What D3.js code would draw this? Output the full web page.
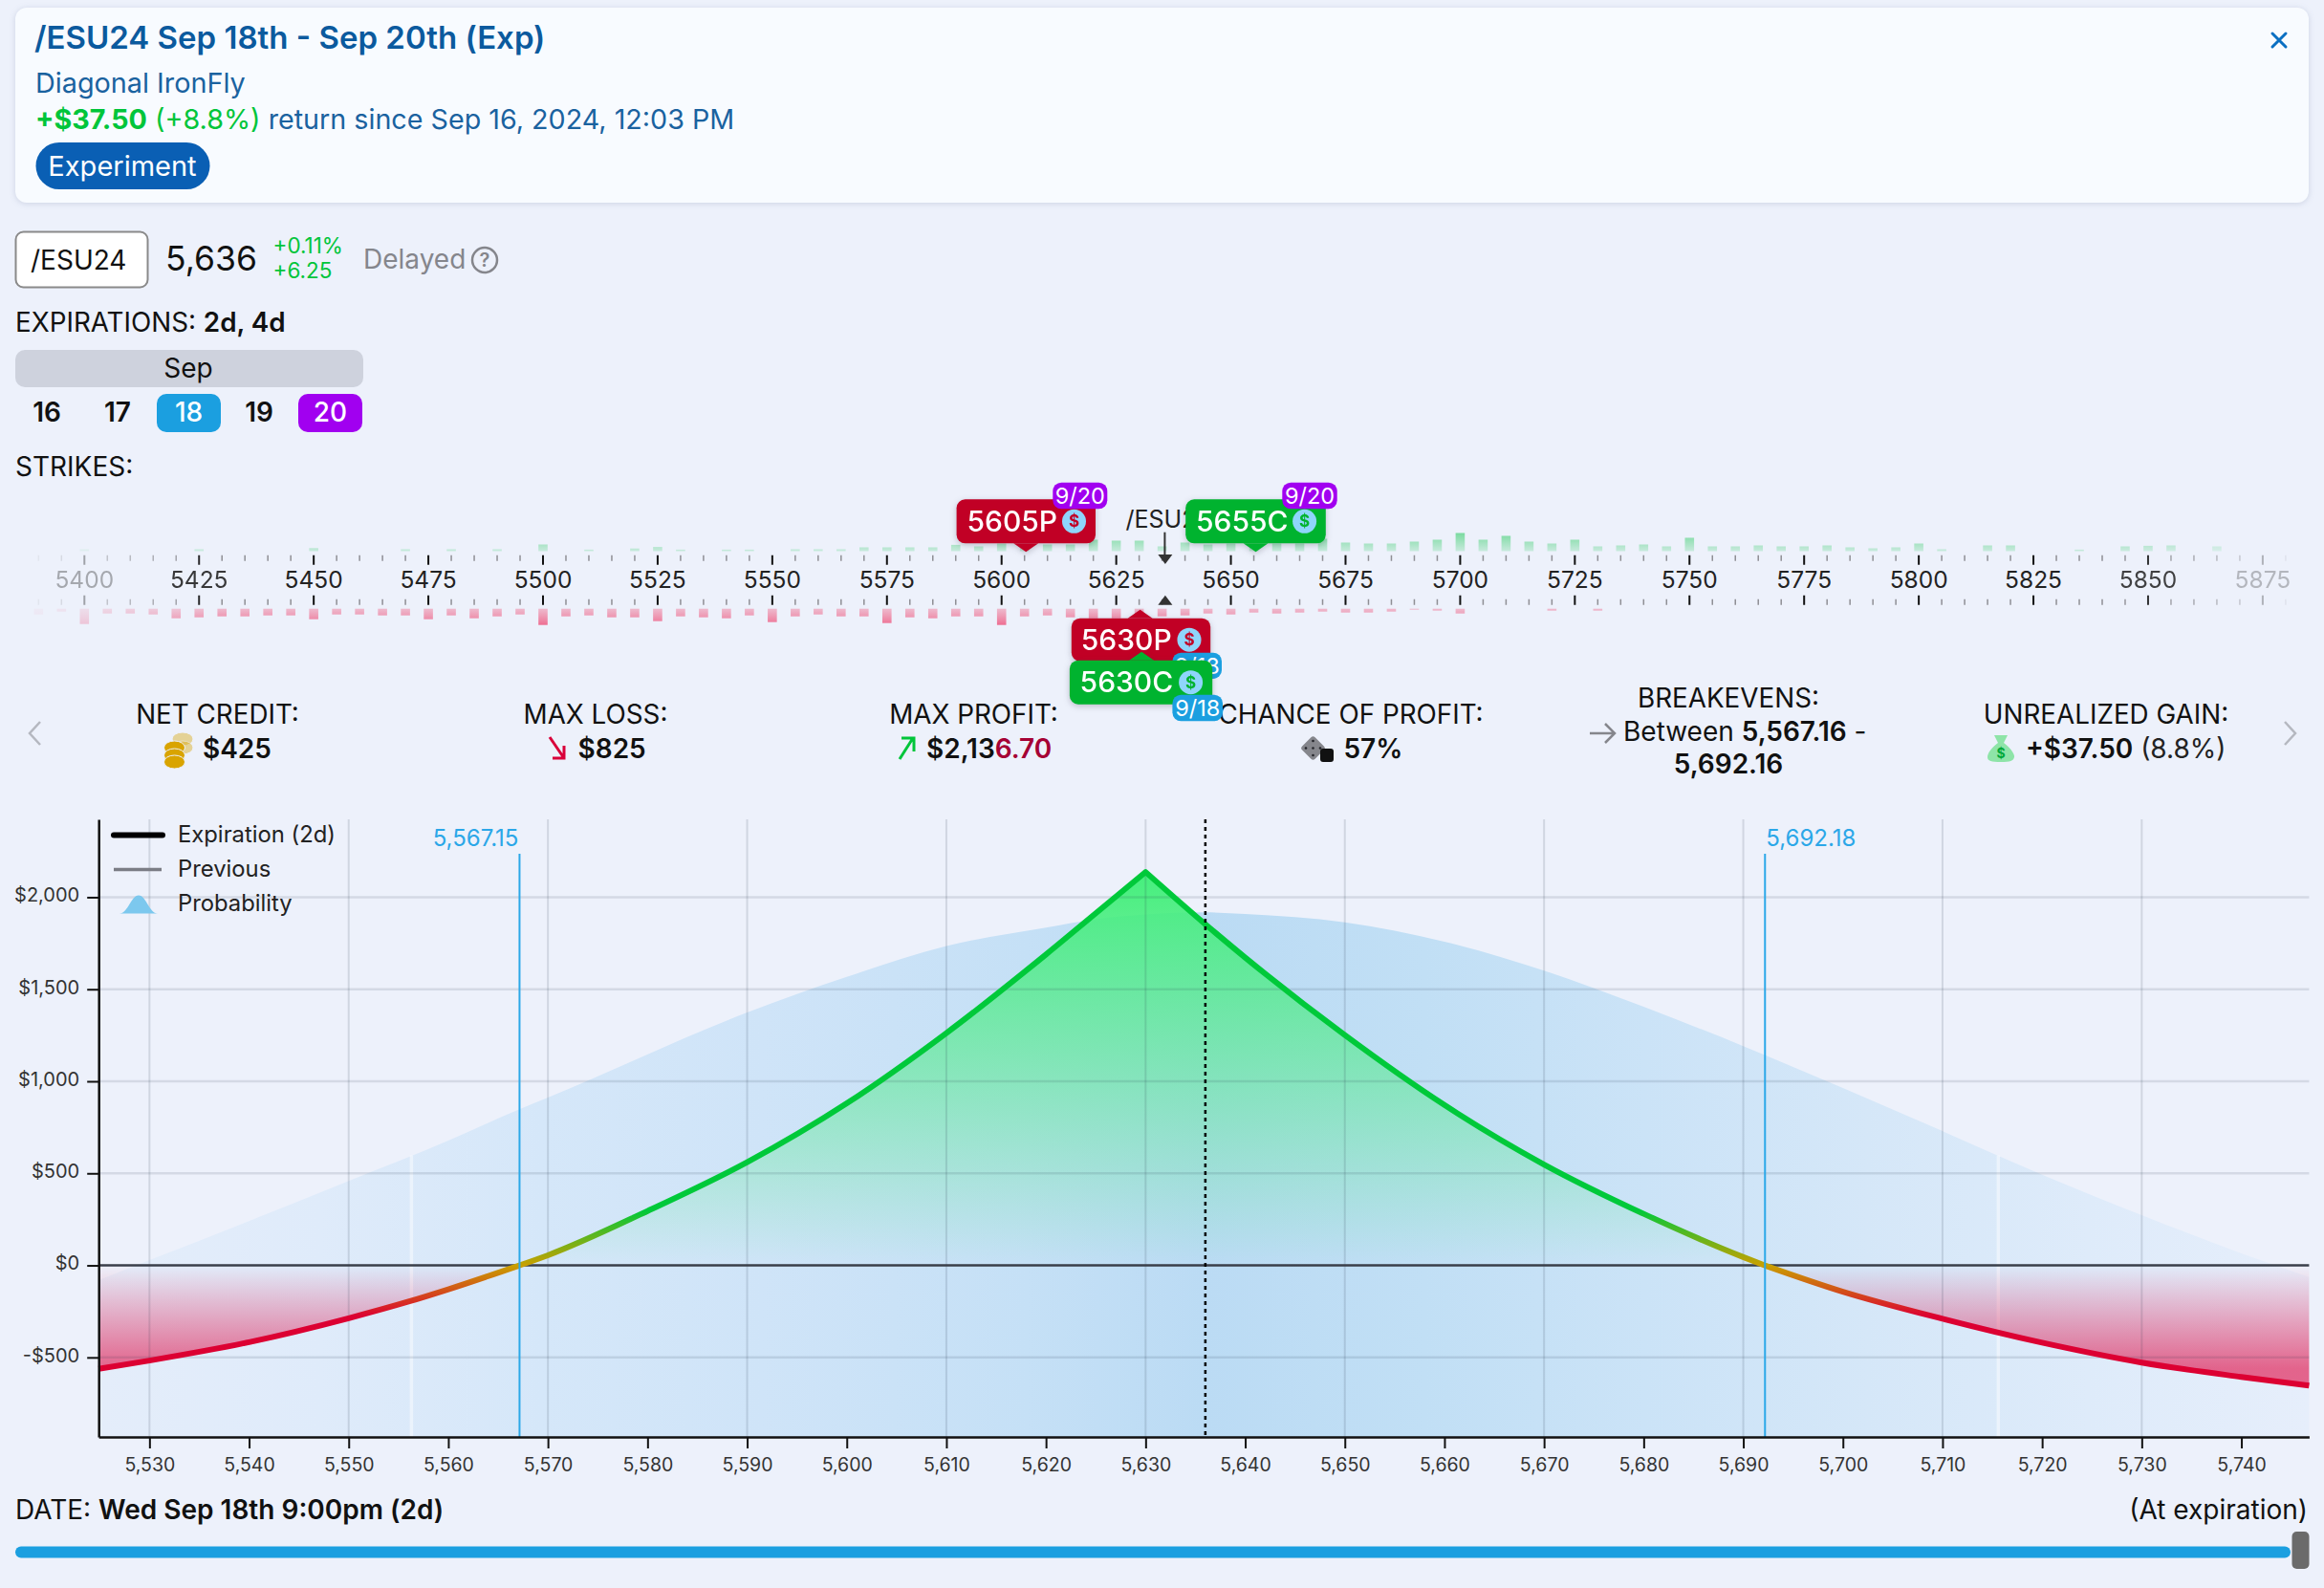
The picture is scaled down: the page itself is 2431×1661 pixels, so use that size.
<!DOCTYPE html>
<html>
<head>
<meta charset="utf-8">
<title>/ESU24 Diagonal IronFly</title>
<style>
  html, body { margin: 0; padding: 0; background: #edf1fb; }
  svg { display: block; }
  text { font-family: Inter, "Noto Sans", sans-serif; }
</style>
</head>
<body>
<script src="https://cdnjs.cloudflare.com/ajax/libs/d3/7.8.5/d3.min.js"></script>
<script>
// payoff at expiration, split at the 5630 peak so the kink stays sharp
var pnlLossLeftPrice = [5524.9, 5530, 5540, 5550, 5556, 5560, 5567.15];
var pnlLossLeftValue = [-562, -517, -417, -287, -197, -130, 0];
var pnlGainLeftPrice = [5567.15, 5570, 5580, 5590, 5600, 5610, 5620, 5625, 5630];
var pnlGainLeftValue = [0, 55, 295, 560, 880, 1262, 1689, 1913, 2136.7];
var pnlGainRightPrice = [5630, 5635.8, 5640, 5650, 5660, 5670, 5680, 5690, 5692.16];
var pnlGainRightValue = [2136.7, 1862, 1672, 1251, 871, 548, 280, 45, 0];
var pnlLossRightPrice = [5692.16, 5700, 5710, 5720, 5730, 5740, 5746.8];
var pnlLossRightValue = [0, -143, -290, -420, -528, -606, -653];

// probability curve, 1 = the top of the bell
var probPrice = [5524.9, 5530, 5540.7, 5550, 5560, 5566.8, 5570, 5590, 5600, 5610, 5620, 5625, 5630, 5636, 5640, 5650, 5660, 5670, 5680, 5690, 5700, 5710, 5720, 5730, 5740, 5746.8];
var probValue = [0.299, 0.337, 0.417, 0.488, 0.565, 0.622, 0.647, 0.809, 0.877, 0.936, 0.971, 0.987, 0.996, 1, 0.997, 0.981, 0.944, 0.889, 0.82, 0.745, 0.665, 0.583, 0.5, 0.423, 0.35, 0.305];
var sigmaBands = [5556.3, 5715.6];

var xTicks = [5530, 5540, 5550, 5560, 5570, 5580, 5590, 5600, 5610, 5620, 5630, 5640, 5650, 5660, 5670, 5680, 5690, 5700, 5710, 5720, 5730, 5740];
var xGrid = [5530, 5550, 5570, 5590, 5610, 5630, 5650, 5670, 5690, 5710, 5730];
var yTicks = [-500, 0, 500, 1000, 1500, 2000];
var breakevens = [5567.15, 5692.18];
var lastPrice = 5636;

// strike rail
var strikeLabels = [5400, 5425, 5450, 5475, 5500, 5525, 5550, 5575, 5600, 5625, 5650, 5675, 5700, 5725, 5750, 5775, 5800, 5825, 5850, 5875];
var callStrikes = [5400, 5425, 5450, 5470, 5480, 5490, 5500, 5510, 5520, 5525, 5530, 5540, 5545, 5555, 5560, 5565, 5570, 5575, 5580, 5585, 5590, 5595, 5600, 5605, 5610, 5615, 5620, 5625, 5630, 5635, 5640, 5645, 5650, 5655, 5660, 5665, 5670, 5675, 5680, 5685, 5690, 5695, 5700, 5705, 5710, 5715, 5720, 5725, 5730, 5735, 5740, 5745, 5750, 5755, 5760, 5765, 5770, 5775, 5780, 5785, 5790, 5795, 5800, 5805, 5815, 5820, 5835, 5845, 5850, 5855, 5865];
var callVolume = [10, 10, 16, 10, 10, 10, 35, 8, 14, 22, 8, 8, 8, 10, 10, 10, 20, 20, 20, 20, 33, 25, 40, 30, 35, 35, 60, 55, 55, 25, 45, 35, 40, 30, 40, 40, 65, 45, 40, 40, 50, 60, 95, 60, 80, 50, 40, 60, 25, 30, 35, 25, 70, 25, 25, 30, 25, 25, 30, 20, 15, 20, 40, 10, 30, 30, 8, 25, 28, 30, 25];
var putStrikes = [5390, 5395, 5400, 5405, 5410, 5415, 5420, 5425, 5430, 5435, 5440, 5445, 5450, 5455, 5460, 5465, 5470, 5475, 5480, 5485, 5490, 5495, 5500, 5505, 5510, 5515, 5520, 5525, 5530, 5535, 5540, 5545, 5550, 5555, 5560, 5565, 5570, 5575, 5580, 5585, 5590, 5595, 5600, 5605, 5610, 5615, 5620, 5625, 5630, 5635, 5640, 5645, 5650, 5655, 5660, 5665, 5670, 5675, 5680, 5685, 5690, 5695, 5700, 5720, 5730];
var putVolume = [30, 15, 80, 25, 25, 30, 50, 45, 40, 40, 35, 35, 55, 30, 30, 35, 35, 55, 35, 50, 40, 30, 85, 40, 35, 45, 45, 65, 40, 45, 50, 35, 70, 40, 30, 40, 40, 75, 45, 50, 40, 40, 85, 40, 35, 45, 50, 50, 40, 40, 35, 25, 30, 20, 25, 20, 15, 20, 20, 15, 5, 10, 25, 10, 10];
var minorStrikes = d3.range(5390, 5885, 5);

var w = 2431, h = 1661;
var plotLeft = 103.2, plotRight = 2415.4, plotTop = 857, plotBottom = 1503;

var x = d3.scaleLinear().domain([5524.9, 5746.8]).range([plotLeft, plotRight]);
var y = d3.scaleLinear().domain([-932, 2423]).range([plotBottom, plotTop]);
var probY = d3.scaleLinear().domain([0, 1]).range([plotBottom, 954.3]);
var probAt = d3.scaleLinear().domain(probPrice).range(probValue);
var strikeX = d3.scaleLinear().domain([5400, 5875]).range([88.3, 2366.9]);
var volH = d3.scaleLinear().domain([0, 100]).range([0, 20]);
var railFade = d3.scaleLinear().domain([5385, 5400, 5430, 5840, 5860, 5885]).range([0, 0.35, 1, 1, 0.7, 0]).clamp(true);

var svg = d3.select('body').append('svg').attr('width', w).attr('height', h);
var defs = svg.append('defs');

function gradient(id, x1, y1, x2, y2, stops) {
    var g = defs.append('linearGradient').attr('id', id)
        .attr('gradientUnits', 'userSpaceOnUse')
        .attr('x1', x1).attr('y1', y1).attr('x2', x2).attr('y2', y2);
    stops.forEach(function (s) {
        g.append('stop').attr('offset', s[0]).attr('stop-color', s[1]).attr('stop-opacity', s[2] === undefined ? 1 : s[2]);
    });
}

function label(parent, px, py, str, size, opts) {
    opts = opts || {};
    return parent.append('text')
        .attr('x', px).attr('y', py)
        .attr('font-size', size)
        .attr('font-weight', opts.weight || 400)
        .attr('fill', opts.fill || '#111')
        .attr('text-anchor', opts.anchor || 'start')
        .text(str);
}

// mixed runs on one baseline, each run is [text, weight, colour]
function runs(parent, px, py, size, parts, anchor) {
    var t = parent.append('text').attr('x', px).attr('y', py).attr('font-size', size)
        .attr('text-anchor', anchor || 'start').attr('xml:space', 'preserve');
    parts.forEach(function (p) {
        t.append('tspan').attr('font-weight', p[1]).attr('fill', p[2]).text(p[0]);
    });
    return t;
}

function roundRect(parent, x0, y0, x1, y1, r, fill) {
    return parent.append('rect').attr('x', x0).attr('y', y0)
        .attr('width', x1 - x0).attr('height', y1 - y0)
        .attr('rx', r).attr('fill', fill);
}

/* ---------- header card ---------- */
var head = svg.append('g');
roundRect(head, 16, 8, 2415, 212, 12, '#f8fbff').style('filter', 'drop-shadow(0 1px 3px rgba(60,80,120,0.18))');
label(head, 36, 51, '/ESU24 Sep 18th - Sep 20th (Exp)', 33, { weight: 600, fill: '#0b5a9e' });
label(head, 37, 97, 'Diagonal IronFly', 28.8, { fill: '#1a629f' });
runs(head, 37, 135, 28.7, [['+$37.50', 700, '#00c53a'], [' (+8.8%)', 400, '#00c53a'], [' return since Sep 16, 2024, 12:03 PM', 400, '#1a629f']]);
roundRect(head, 37.5, 149, 219.5, 198, 24.5, '#0a5fb4');
label(head, 128, 184, 'Experiment', 29, { fill: '#fff', anchor: 'middle' });
head.append('path').attr('d', 'M2377 35L2391 49M2391 35L2377 49').attr('stroke', '#0a6fc2').attr('stroke-width', 3).attr('stroke-linecap', 'round');

/* ---------- ticker row ---------- */
var tick = svg.append('g');
roundRect(tick, 16.5, 242.5, 154.5, 300.5, 8, '#fff').attr('stroke', '#8a8a8a').attr('stroke-width', 2);
label(tick, 32, 282, '/ESU24', 28);
label(tick, 173, 283, '5,636', 35.5);
label(tick, 285.5, 265, '+0.11%', 22.5, { fill: '#00c53a' });
label(tick, 285.5, 291, '+6.25', 22.5, { fill: '#00c53a' });
label(tick, 380, 281, 'Delayed', 28, { fill: '#85868c' });
tick.append('circle').attr('cx', 507).attr('cy', 272).attr('r', 13).attr('fill', 'none').attr('stroke', '#85868c').attr('stroke-width', 2.5);
label(tick, 507, 279, '?', 20, { fill: '#85868c', anchor: 'middle', weight: 600 });

runs(tick, 16, 347, 27.8, [['EXPIRATIONS: ', 400, '#111'], ['2d, 4d', 600, '#111']]);
roundRect(tick, 16, 366, 380, 405, 10, '#ced2dd');
label(tick, 197, 395, 'Sep', 28, { anchor: 'middle' });
roundRect(tick, 164, 412, 231, 452, 10, '#1b9fe0');
roundRect(tick, 312, 412, 379, 452, 10, '#a100f0');
var days = ['16', '17', '18', '19', '20'], dayX = [49, 123, 197.5, 271, 345.5], dayFill = ['#111', '#111', '#fff', '#111', '#fff'];
days.forEach(function (d, i) {
    label(tick, dayX[i], 441, d, 28, { anchor: 'middle', fill: dayFill[i], weight: i === 2 || i === 4 ? 500 : 600 });
});
label(tick, 16, 498, 'STRIKES:', 28);

/* ---------- strike rail ---------- */
var rail = svg.append('g');
gradient('callBar', 0, 556, 0, 577, [[0, '#5fd58a', 0.85], [1, '#5fd58a', 0.25]]);
gradient('putBar', 0, 637, 0, 655, [[0, '#ee7f9d', 0.5], [1, '#ee5f86', 0.95]]);

rail.selectAll('.call').data(callStrikes).enter().append('rect')
    .attr('x', function (d) { return strikeX(d) - 4.8; })
    .attr('y', function (d, i) { return 576.5 - volH(callVolume[i]); })
    .attr('width', 9.6)
    .attr('height', function (d, i) { return volH(callVolume[i]); })
    .attr('fill', 'url(#callBar)')
    .attr('opacity', railFade);
rail.selectAll('.put').data(putStrikes).enter().append('rect')
    .attr('x', function (d) { return strikeX(d) - 4.8; })
    .attr('y', 636.7)
    .attr('width', 9.6)
    .attr('height', function (d, i) { return volH(putVolume[i]); })
    .attr('fill', 'url(#putBar)')
    .attr('opacity', railFade);

minorStrikes.forEach(function (s) {
    var major = s % 25 === 0;
    var sx = strikeX(s);
    rail.append('path')
        .attr('d', major ? 'M' + sx + ' 580.7V590.7M' + sx + ' 622.7V632.7' : 'M' + sx + ' 580.7V586.7M' + sx + ' 626.7V632.7')
        .attr('stroke', major ? '#111' : '#8f8f95')
        .attr('stroke-width', major ? 2 : 1.5)
        .attr('opacity', railFade(s));
});
rail.selectAll('.strike').data(strikeLabels).enter().append('text')
    .attr('x', strikeX).attr('y', 615)
    .attr('text-anchor', 'middle').attr('font-size', 24.5).attr('fill', '#222')
    .attr('opacity', railFade)
    .text(function (d) { return d; });

// last price markers
var px = strikeX(lastPrice);
label(rail, 1177.5, 552, '/ESU24', 25, { fill: '#222' });
rail.append('path').attr('d', 'M' + (px - 2) + ' 556.7V580').attr('stroke', '#333').attr('stroke-width', 2);
rail.append('path').attr('d', 'M' + (px - 9) + ' 580H' + (px + 6) + 'L' + (px - 1.5) + ' 590Z').attr('fill', '#333');
rail.append('path').attr('d', 'M' + (px - 9) + ' 632.7H' + (px + 6) + 'L' + (px - 1.5) + ' 622.7Z').attr('fill', '#333');

function badge(parent, x0, y0, x1, y1, str, fill) {
    roundRect(parent, x0, y0, x1, y1, 9, fill);
    label(parent, (x0 + x1) / 2, (y0 + y1) / 2 + 8.5, str, 23.5, { fill: '#fff', anchor: 'middle' });
}

function callout(parent, c) {
    var g = parent.append('g').style('filter', 'drop-shadow(0 2px 3px rgba(40,40,60,0.25))');
    var sx = strikeX(c.strike) + c.nudge;
    roundRect(g, c.x0, c.y0, c.x1, c.y1, 9, c.fill);
    var tip = c.up
        ? 'M' + (sx - 13) + ' ' + c.y0 + 'L' + sx + ' ' + (c.y0 - 9) + 'L' + (sx + 13) + ' ' + c.y0 + 'Z'
        : 'M' + (sx - 13) + ' ' + c.y1 + 'L' + sx + ' ' + (c.y1 + 9) + 'L' + (sx + 13) + ' ' + c.y1 + 'Z';
    g.append('path').attr('d', tip).attr('fill', c.fill);
    label(g, c.tx, c.y0 + 33.5, c.text, 30, { fill: '#fff', weight: 500 });
    g.append('circle').attr('cx', c.dx).attr('cy', (c.y0 + c.y1) / 2).attr('r', 12.5).attr('fill', '#8fd5fb');
    label(g, c.dx, (c.y0 + c.y1) / 2 + 6, '$', 17, { fill: c.fill, anchor: 'middle', weight: 700 });
}

callout(rail, { strike: 5605, nudge: 1.5, up: false, x0: 1000.6, x1: 1146, y0: 522.3, y1: 568.3, fill: '#c10025', text: '5605P', tx: 1011.5, dx: 1123.5 });
badge(rail, 1101.3, 504.7, 1158.3, 532.3, '9/20', '#a100f0');
callout(rail, { strike: 5655, nudge: 2, up: false, x0: 1240.2, x1: 1386.8, y0: 522.3, y1: 568.3, fill: '#00b32f', text: '5655C', tx: 1251, dx: 1364.6 });
badge(rail, 1341.3, 504.7, 1398.7, 532.3, '9/20', '#a100f0');
callout(rail, { strike: 5630, nudge: 1, up: true, x0: 1120.8, x1: 1266.2, y0: 646.7, y1: 691.7, fill: '#c10025', text: '5630P', tx: 1130.8, dx: 1244 });
badge(rail, 1226.4, 682.7, 1278, 710, '9/18', '#1b9fe0');
callout(rail, { strike: 5630, nudge: 2.5, up: true, x0: 1118.9, x1: 1268.2, y0: 690.7, y1: 736.7, fill: '#00b32f', text: '5630C', tx: 1129.6, dx: 1245.6 });
badge(rail, 1226.4, 726.7, 1279, 754.3, '9/18', '#1b9fe0');

/* ---------- metrics row, kept under the rail callouts ---------- */
var stats = svg.insert('g', 'g:nth-of-type(3)');
function chevron(px0, px1) {
    stats.append('path').attr('d', 'M' + px1 + ' 755L' + px0 + ' 767L' + px1 + ' 779')
        .attr('fill', 'none').attr('stroke', '#b5b8c0').attr('stroke-width', 2.5);
}
chevron(31, 42);
chevron(2401, 2390);

label(stats, 227.5, 757, 'NET CREDIT:', 27.8, { anchor: 'middle' });
label(stats, 212, 793, '$425', 28, { weight: 600 });
[[191, 773, 0.4], [191, 782, 0.4], [182.5, 782, 1], [182.5, 790, 1], [182.5, 797, 1]].forEach(function (c) {
    stats.append('ellipse').attr('cx', c[0]).attr('cy', c[1]).attr('rx', 11).attr('ry', 7)
        .attr('fill', '#d9a400').attr('opacity', c[2]).attr('stroke', '#edf1fb').attr('stroke-width', 1);
});

label(stats, 623, 757, 'MAX LOSS:', 27.8, { anchor: 'middle' });
label(stats, 604.5, 793, '$825', 28, { weight: 600 });
stats.append('path').attr('d', 'M575 771L590 793M590 780V793H578').attr('fill', 'none').attr('stroke', '#d9003a').attr('stroke-width', 3);

label(stats, 1018.5, 757, 'MAX PROFIT:', 27.8, { anchor: 'middle' });
runs(stats, 969, 793, 28, [['$2,13', 600, '#111'], ['6.70', 600, '#a50034']]);
stats.append('path').attr('d', 'M941 794L955 772M943 772H956V786').attr('fill', 'none').attr('stroke', '#00c53a').attr('stroke-width', 3);

label(stats, 1413, 757, 'CHANCE OF PROFIT:', 27.8, { anchor: 'middle' });
label(stats, 1405.5, 793, '57%', 28, { weight: 600 });
stats.append('rect').attr('x', 1364).attr('y', 773).attr('width', 19).attr('height', 19).attr('rx', 3)
    .attr('transform', 'rotate(45 1373.5 782.5)').attr('fill', '#85868c');
[[1373.5, 775], [1366, 782.5], [1373.5, 782.5], [1381, 782.5], [1373.5, 790]].forEach(function (c) {
    stats.append('circle').attr('cx', c[0]).attr('cy', c[1]).attr('r', 1.3).attr('fill', '#23242a');
});
stats.append('rect').attr('x', 1381).attr('y', 783).attr('width', 14).attr('height', 14).attr('rx', 3).attr('fill', '#111');

label(stats, 1808, 739.5, 'BREAKEVENS:', 27.8, { anchor: 'middle' });
stats.append('path').attr('d', 'M1663 767H1689M1679 757L1689 767L1679 777').attr('fill', 'none').attr('stroke', '#85868c').attr('stroke-width', 2.5);
runs(stats, 1698, 775, 28, [['Between ', 400, '#111'], ['5,567.16', 600, '#111'], [' -', 400, '#111']]);
label(stats, 1808, 808.5, '5,692.16', 28, { weight: 600, anchor: 'middle' });

label(stats, 2203, 757, 'UNREALIZED GAIN:', 27.8, { anchor: 'middle' });
runs(stats, 2119, 793, 28, [['+$37.50', 600, '#111'], [' (8.8%)', 400, '#222']]);
stats.append('path').attr('d', 'M2086 769H2100L2096 777C2104 783 2108 790 2107 792C2106 796 2103 797 2093 797C2083 797 2079 796 2079 792C2079 788 2083 782 2090 777Z').attr('fill', '#8ee4a8');
label(stats, 2093, 793, '$', 14, { fill: '#00a83a', anchor: 'middle', weight: 700 });

/* ---------- payoff chart ---------- */
var chart = svg.append('g');

function pts(xs, ys) { return xs.map(function (d, i) { return [x(d), y(ys[i])]; }); }
var lineGen = d3.line().curve(d3.curveMonotoneX);
function joined(segments) {
    return segments.map(function (s, i) {
        var d = lineGen(s);
        return i ? d.replace(/^M/, 'L') : d;
    }).join('');
}

var gainL = pts(pnlGainLeftPrice, pnlGainLeftValue);
var gainR = pts(pnlGainRightPrice, pnlGainRightValue);
var lossL = pts(pnlLossLeftPrice, pnlLossLeftValue);
var lossR = pts(pnlLossRightPrice, pnlLossRightValue);

gradient('bellFill', x(5524.9), 0, x(5746.8), 0, [
    [0, '#e4edfa'], [0.1, '#dfebfa'], [0.2, '#d5e7f9'], [0.3, '#cfe4f8'], [0.42, '#c5e0f6'],
    [0.5, '#bbdbf4'], [0.6, '#c1dff5'], [0.7, '#cbe3f7'], [0.8, '#d5e7f8'], [0.9, '#deebfa'], [1, '#e6eefb']
]);
gradient('gainFill', 0, y(2136.7), 0, y(0), [[0, '#45ef7c', 1], [1, '#45e880', 0]]);
gradient('lossFill', 0, y(0), 0, y(-560), [[0, '#e1003c', 0], [1, '#e1003c', 0.58]]);
gradient('pnlStroke', 0, y(300), 0, y(-280), [[0, '#00c93a'], [300 / 580, '#c9a000'], [1, '#dc0032']]);

var bell = d3.area()
    .x(function (d) { return x(d); })
    .y0(plotBottom)
    .y1(function (d, i) { return probY(probValue[i]); })
    .curve(d3.curveMonotoneX);
chart.append('path').attr('d', bell(probPrice)).attr('fill', 'url(#bellFill)');

sigmaBands.forEach(function (s) {
    chart.append('line').attr('x1', x(s)).attr('x2', x(s))
        .attr('y1', probY(probAt(s))).attr('y2', plotBottom)
        .attr('stroke', '#fff').attr('stroke-opacity', 0.45).attr('stroke-width', 3.5);
});

var zeroY = y(0);
chart.append('path')
    .attr('d', joined([gainL, gainR]) + 'L' + x(5692.16) + ' ' + zeroY + 'L' + x(5567.15) + ' ' + zeroY + 'Z')
    .attr('fill', 'url(#gainFill)');
[lossL, lossR].forEach(function (seg) {
    chart.append('path')
        .attr('d', lineGen(seg) + 'L' + seg[seg.length - 1][0] + ' ' + zeroY + 'L' + seg[0][0] + ' ' + zeroY + 'Z')
        .attr('fill', 'url(#lossFill)');
});

// grid sits over the fills
chart.selectAll('.gx').data(xGrid).enter().append('line')
    .attr('x1', x).attr('x2', x).attr('y1', plotTop).attr('y2', plotBottom)
    .attr('stroke', '#22304a').attr('stroke-opacity', 0.14).attr('stroke-width', 2);
chart.selectAll('.gy').data(yTicks.filter(function (d) { return d !== 0; })).enter().append('line')
    .attr('x1', plotLeft).attr('x2', plotRight).attr('y1', y).attr('y2', y)
    .attr('stroke', '#22304a').attr('stroke-opacity', 0.12).attr('stroke-width', 2.5);
chart.append('line').attr('x1', plotLeft).attr('x2', plotRight).attr('y1', zeroY).attr('y2', zeroY)
    .attr('stroke', '#3a3f4a').attr('stroke-width', 2.5);

chart.append('path')
    .attr('d', joined([lossL, gainL, gainR, lossR]))
    .attr('fill', 'none').attr('stroke', 'url(#pnlStroke)').attr('stroke-width', 6).attr('stroke-linejoin', 'round');

chart.selectAll('.be').data(breakevens).enter().append('line')
    .attr('x1', x).attr('x2', x).attr('y1', 893).attr('y2', plotBottom)
    .attr('stroke', '#2ca8e8').attr('stroke-width', 2);
label(chart, x(breakevens[0]) - 1, 885, '5,567.15', 24, { fill: '#2ba7e8', anchor: 'end' });
label(chart, x(breakevens[1]) + 1, 885, '5,692.18', 24, { fill: '#2ba7e8' });

chart.append('line').attr('x1', x(lastPrice)).attr('x2', x(lastPrice)).attr('y1', plotTop).attr('y2', plotBottom)
    .attr('stroke', '#000').attr('stroke-width', 2.5).attr('stroke-dasharray', '4 4');

// axes
var xAxis = d3.axisBottom(x).tickValues(xTicks).tickSize(12).tickSizeOuter(0).tickPadding(10).tickFormat(d3.format(','));
var yAxis = d3.axisLeft(y).tickValues(yTicks).tickSize(12).tickSizeOuter(0).tickPadding(8)
    .tickFormat(function (d) { return d < 0 ? '-$' + d3.format(',')(-d) : '$' + d3.format(',')(d); });
var xAxisG = chart.append('g').attr('transform', 'translate(0,' + plotBottom + ')').call(xAxis);
var yAxisG = chart.append('g').attr('transform', 'translate(' + plotLeft + ',0)').call(yAxis);
[xAxisG, yAxisG].forEach(function (a) {
    a.selectAll('path').attr('stroke', '#111').attr('stroke-width', 2.5);
    a.selectAll('line').attr('stroke', '#111').attr('stroke-width', 2);
    a.selectAll('text').attr('font-size', 19.5).attr('fill', '#333').attr('font-family', 'Inter');
});
yAxisG.selectAll('text').attr('font-size', 20).attr('dy', '0.22em');

// legend
chart.append('line').attr('x1', 119).attr('x2', 170).attr('y1', 873.5).attr('y2', 873.5)
    .attr('stroke', '#000').attr('stroke-width', 6).attr('stroke-linecap', 'round');
label(chart, 186, 881, 'Expiration (2d)', 23.8, { fill: '#222' });
chart.append('line').attr('x1', 119).attr('x2', 169).attr('y1', 909.5).attr('y2', 909.5)
    .attr('stroke', '#7b7d85').attr('stroke-width', 3.5);
label(chart, 186, 917, 'Previous', 23.8, { fill: '#222' });
chart.append('path').attr('d', 'M125 955.5C134 955.5 137 936.5 145 936.5C153 936.5 156 955.5 165 955.5Z').attr('fill', '#7cc8ee');
label(chart, 186, 953, 'Probability', 23.8, { fill: '#222' });

/* ---------- date slider ---------- */
var foot = svg.append('g');
runs(foot, 16, 1588.5, 28, [['DATE: ', 400, '#111'], ['Wed Sep 18th 9:00pm (2d)', 600, '#111']]);
label(foot, 2414, 1588.5, '(At expiration)', 28, { anchor: 'end' });
roundRect(foot, 16, 1617.5, 2396, 1629.5, 6, '#1b9fe0');
roundRect(foot, 2397.5, 1602, 2415.5, 1641, 5, '#6b6b6b');
</script>
</body>
</html>
